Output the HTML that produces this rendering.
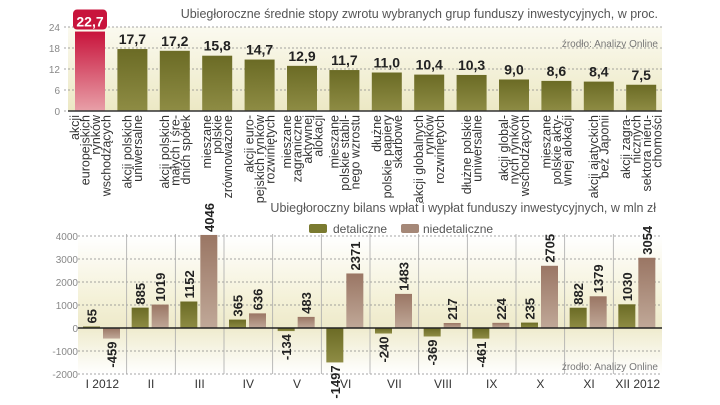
<!DOCTYPE html>
<html><head><meta charset="utf-8">
<style>
body{margin:0;background:#fff;}
svg{display:block;font-family:"Liberation Sans",sans-serif;}
</style></head><body>
<svg width="720" height="405" viewBox="0 0 720 405">
<defs>
<linearGradient id="bgTop" x1="0" y1="0" x2="0" y2="1"><stop offset="0" stop-color="#fbfaf0"/><stop offset="1" stop-color="#ece8c4"/></linearGradient>
<linearGradient id="bgBot" x1="0" y1="0" x2="0" y2="1"><stop offset="0" stop-color="#ffffff"/><stop offset="0.45" stop-color="#f4f1d8"/><stop offset="0.65" stop-color="#eeeacb"/><stop offset="1" stop-color="#ffffff"/></linearGradient>
<linearGradient id="olive" x1="0" y1="0" x2="0" y2="1"><stop offset="0" stop-color="#6b6b25"/><stop offset="1" stop-color="#8e8c44"/></linearGradient>
<linearGradient id="brown" x1="0" y1="0" x2="0" y2="1"><stop offset="0" stop-color="#9a7664"/><stop offset="1" stop-color="#c0a898"/></linearGradient>
<linearGradient id="red" x1="0" y1="0" x2="0" y2="1"><stop offset="0" stop-color="#c8143c"/><stop offset="1" stop-color="#e8a0a8"/></linearGradient>
</defs>
<g id="top"></g>
<g id="bot"></g>
</svg>
<script>
const retCategories=[["akcji","europejskich","rynków","wschodzących"],["akcji polskich","uniwersalne"],["akcji polskich","małych i śre-","dnich spółek"],["mieszane","polskie","zrównoważone"],["akcji euro-","pejskich rynków","rozwiniętych"],["mieszane","zagraniczne","aktywnej","alokacji"],["mieszane","polskie stabil-","nego wzrostu"],["dłużne","polskie papiery","skarbowe"],["akcji globalnych","rynków","rozwiniętych"],["dłużne polskie","uniwersalne"],["akcji global-","nych rynków","wschodzących"],["mieszane","polskie akty-","wnej alokacji"],["akcji ajatyckich","bez Japonii"],["akcji zagra-","nicznych","sektora nieru-","chomości"]];
const retValues=[22.7,17.7,17.2,15.8,14.7,12.9,11.7,11.0,10.4,10.3,9.0,8.6,8.4,7.5];
const retTicks=[0,6,12,18,24];
const months=["I 2012","II","III","IV","V","VI","VII","VIII","IX","X","XI","XII 2012"];
const retail=[65,885,1152,365,-134,-1497,-240,-369,-461,235,882,1030];
const nonRetail=[-459,1019,4046,636,483,2371,1483,217,224,2705,1379,3054];
const flowTicks=[-2000,-1000,0,1000,2000,3000,4000];

const NS="http://www.w3.org/2000/svg";
function mk(parent,tag,attrs,text){const e=document.createElementNS(NS,tag);for(const k in attrs)e.setAttribute(k,attrs[k]);if(text!==undefined)e.textContent=text;parent.appendChild(e);return e;}
const fmt=v=>v.toFixed(1).replace('.',',');

// ---- top chart ----
const T=document.getElementById('top');
const tx0=68,tx1=662,ty0=111;
const ty=v=>ty0-v*3.5;
const tx=i=>90+i*42.4;
mk(T,'rect',{x:tx0,y:ty(24),width:tx1-tx0,height:ty0-ty(24),fill:'url(#bgTop)'});
let t=mk(T,'text',{x:658,y:18,'text-anchor':'end','font-size':12.5,fill:'#555'},'Ubiegłoroczne średnie stopy zwrotu wybranych grup funduszy inwestycyjnych, w proc.');

t=mk(T,'text',{x:658,y:47,'text-anchor':'end','font-size':10,fill:'#777'},'źrodło: Analizy Online');

retTicks.forEach(v=>{
 const l=mk(T,'line',{x1:64,x2:tx1,y1:ty(v),y2:ty(v),stroke:'#888','stroke-dasharray':'2,2','stroke-width':0.8});
 
 const lb=mk(T,'text',{x:60,y:ty(v)+4,'text-anchor':'end','font-size':10,fill:'#888'},v);
 
});
retValues.forEach((v,i)=>{
 const cx=tx(i);
 const r=mk(T,'rect',{x:cx-15,y:ty(v),width:30,height:ty0-ty(v),fill:i===0?'url(#red)':'url(#olive)'});
 
 if(i===0){
  const b=mk(T,'rect',{x:cx-17,y:ty(v)-22,width:34,height:20,rx:4,fill:'#c8143c'});
  
 }
 const lb=mk(T,'text',{x:cx,y:ty(v)-5,'text-anchor':'middle','font-size':14,'font-weight':'bold',fill:i===0?'#fff':'#222'},fmt(v));
 
 const lines=retCategories[i];
 const n=lines.length,lh=10.5;
 const startX=cx-(n-1)*lh/2+4.5;
 lines.forEach((s,j)=>{
  const x=startX+j*lh;
  const c=mk(T,'text',{x:0,y:0,transform:`translate(${x},115) rotate(-90)`,'text-anchor':'end','font-size':12.5,fill:'#333'},s);
  
 });
});
mk(T,'line',{x1:tx0,x2:tx1,y1:ty0,y2:ty0,stroke:'#333','stroke-width':1.5});

// ---- bottom chart ----
const B=document.getElementById('bot');
const bx0=78,bx1=662,step=(bx1-bx0)/12;
const by=v=>328-v*0.023;
const bx=i=>bx0+i*step;
mk(B,'rect',{x:bx0,y:by(4000),width:bx1-bx0,height:by(-2000)-by(4000),fill:'url(#bgBot)'});
t=mk(B,'text',{x:656,y:212,'text-anchor':'end','font-size':12.5,fill:'#555'},'Ubiegłoroczny bilans wpłat i wypłat funduszy inwestycyjnych, w mln zł');

let s=mk(B,'rect',{x:309,y:224,width:18,height:9,rx:2,fill:'#7a7a30'});
t=mk(B,'text',{x:333,y:233,'font-size':12,fill:'#555'},'detaliczne');
s=mk(B,'rect',{x:401,y:224,width:18,height:9,rx:2,fill:'#a58878'});
t=mk(B,'text',{x:423,y:233,'font-size':12,fill:'#555'},'niedetaliczne');
flowTicks.forEach(v=>{
 const l=mk(B,'line',{x1:bx0,x2:bx1,y1:by(v),y2:by(v),stroke:'#888','stroke-dasharray':'2,2','stroke-width':0.8});
 
 const lb=mk(B,'text',{x:78,y:by(v)+4,'text-anchor':'end','font-size':10,fill:'#888'},v);
 
});
for(let i=1;i<12;i++){const l=mk(B,'line',{x1:bx(i),x2:bx(i),y1:by(4000)-2,y2:by(-2000),stroke:'#aaa','stroke-width':0.8});}
t=mk(B,'text',{x:658,y:370,'text-anchor':'end','font-size':10,fill:'#777'},'źrodło: Analizy Online');

function bar(v,x,fill,name){
 const y0=by(0),y1=by(v);
 const r=mk(B,'rect',{x:x,y:Math.min(y0,y1),width:17,height:Math.max(1,Math.abs(y1-y0)),fill:fill});
 
 const cx=x+8.5+5;
 let lb;
 if(v>=0) lb=mk(B,'text',{x:0,y:0,transform:`translate(${cx},${y1-3}) rotate(-90)`,'font-size':13,'font-weight':'bold',fill:'#222'},v);
 else lb=mk(B,'text',{x:0,y:0,transform:`translate(${cx},${y1+3}) rotate(-90)`,'text-anchor':'end','font-size':13,'font-weight':'bold',fill:'#222'},v);
 
}
months.forEach((m,i)=>{
 bar(retail[i],bx(i)+5,'url(#olive)','bar-retail');
 bar(nonRetail[i],bx(i)+25,'url(#brown)','bar-nonretail');
 const lb=mk(B,'text',{x:bx(i)+step/2,y:388,'text-anchor':'middle','font-size':12,fill:'#333'},m);
 
});
mk(B,'line',{x1:bx0,x2:bx1,y1:by(0),y2:by(0),stroke:'#222','stroke-width':1.5});
</script>
</body></html>
